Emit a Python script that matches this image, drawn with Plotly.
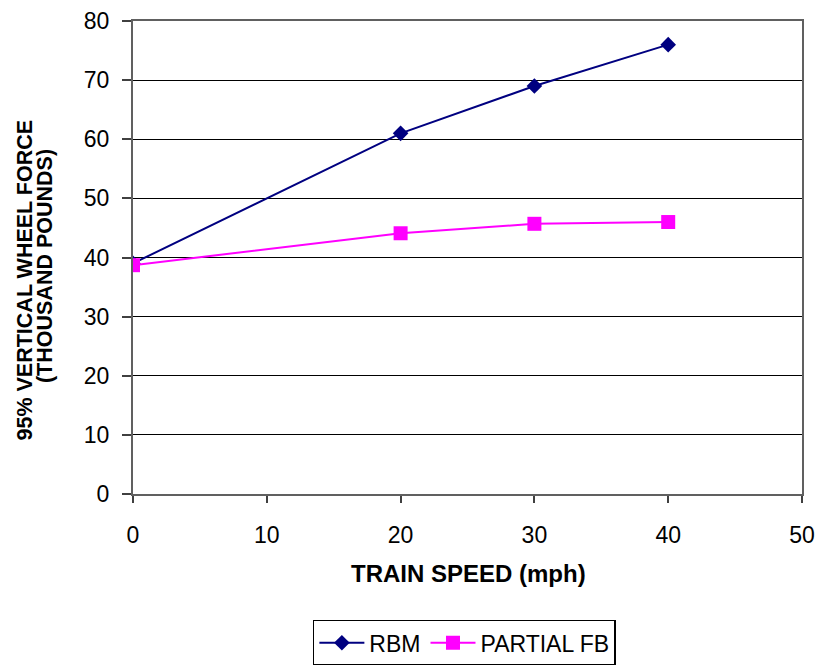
import plotly.graph_objects as go

speed = [0, 20, 30, 40]
rbm = [39.0, 61.0, 69.0, 76.0]
partial_fb = [38.7, 44.1, 45.7, 46.0]

x_ticks = [0, 10, 20, 30, 40, 50]
y_ticks = [0, 10, 20, 30, 40, 50, 60, 70, 80]

fig = go.Figure()
fig.add_trace(go.Scatter(
    x=speed, y=rbm, name="RBM", mode="lines+markers",
    line=dict(color="#000080", width=2),
    marker=dict(symbol="diamond", size=12, color="#000080"),
))
fig.add_trace(go.Scatter(
    x=speed, y=partial_fb, name="PARTIAL FB", mode="lines+markers",
    line=dict(color="#FF00FF", width=2),
    marker=dict(symbol="square", size=14, color="#FF00FF"),
))

font = "Liberation Sans, Arial, sans-serif"
fig.update_layout(
    width=819, height=665,
    margin=dict(l=133, r=17, t=21, b=171),
    paper_bgcolor="white", plot_bgcolor="white",
    font=dict(family=font, size=23, color="black"),
    showlegend=True,
    legend=dict(
        orientation="h", xref="container", x=0.567, xanchor="center",
        yref="container", y=0.068, yanchor="top",
        bordercolor="black", borderwidth=1.5, font=dict(size=23),
        itemwidth=45,
    ),
    xaxis=dict(
        range=[0, 50], tickvals=x_ticks, showgrid=False,
        showline=True, linecolor="#606060", linewidth=2, mirror=True,
        ticks="outside", ticklen=7, tickcolor="#404040", tickwidth=1.5,
        ticklabelstandoff=12, automargin=False,
        zeroline=False,
    ),
    yaxis=dict(
        range=[0, 80], tickvals=y_ticks, showgrid=True, gridcolor="black", gridwidth=1,
        showline=True, linecolor="#606060", linewidth=2, mirror=True,
        ticks="outside", ticklen=9, tickcolor="#404040", tickwidth=1.5,
        ticklabelstandoff=8, automargin=False,
        zeroline=False,
    ),
    annotations=[
        dict(text="<b>TRAIN SPEED (mph)</b>", xref="paper", yref="paper",
             x=0.502, y=-0.169, xanchor="center", yanchor="middle",
             showarrow=False, font=dict(size=24)),
        dict(text="<b>95% VERTICAL WHEEL FORCE</b>", xref="paper", yref="paper",
             x=-0.161, y=0.452, xanchor="center", yanchor="middle", textangle=-90,
             showarrow=False, font=dict(size=21.5)),
        dict(text="<b>(THOUSAND POUNDS)</b>", xref="paper", yref="paper",
             x=-0.1315, y=0.482, xanchor="center", yanchor="middle", textangle=-90,
             showarrow=False, font=dict(size=21.5)),
    ],
)

fig.write_html("out.html", config={"displayModeBar": False},
               post_script="document.body.style.margin='0';")
